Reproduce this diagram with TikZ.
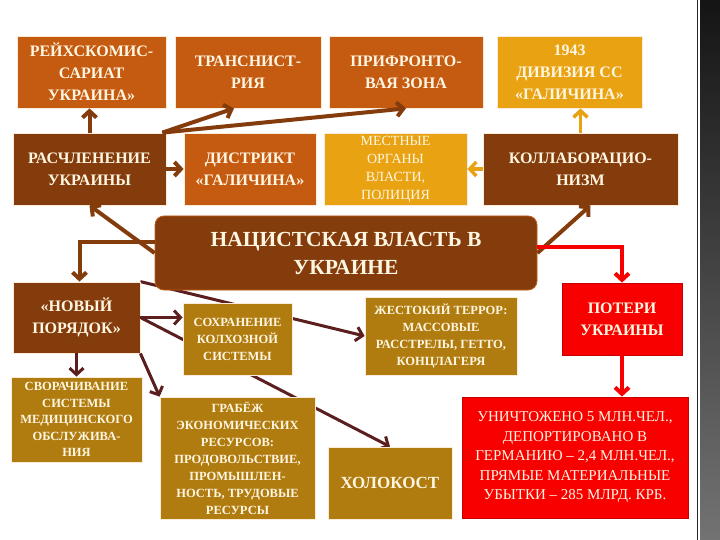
\documentclass[tikz,border=0pt]{standalone}
\usepackage{fontspec}
\setmainfont{Liberation Serif}
\usetikzlibrary{arrows.meta,calc}
\pgfdeclarelayer{background}
\pgfsetlayers{background,main}

\definecolor{rust}{HTML}{C55A11}
\definecolor{darkbrown}{HTML}{843C0C}
\definecolor{amber}{HTML}{E9A312}
\definecolor{olive}{HTML}{B07C10}
\definecolor{alarm}{HTML}{F80000}
\definecolor{maroon}{HTML}{5C1F1F}
\definecolor{cream}{HTML}{FFF6E2}
\definecolor{boxrim}{HTML}{FBEBD8}

\tikzstyle{box}=[rectangle,draw=boxrim,line width=0.8pt,text=cream,align=center,inner sep=1pt]
\tikzstyle{bigfont}=[font=\bfseries\fontsize{16}{22}\selectfont]
\tikzstyle{rustbox}=[box,bigfont,fill=rust]
\tikzstyle{brownbox}=[box,bigfont,fill=darkbrown]
\tikzstyle{amberbox}=[box,fill=amber]
\tikzstyle{olivebox}=[box,fill=olive,font=\bfseries\fontsize{12.5}{17}\selectfont]
\tikzstyle{redbox}=[box,fill=alarm,draw=alarm!80!black]
\tikzstyle{barb}=[-{Straight Barb[length=6.5pt,width=14pt]}]
\tikzstyle{brownedge}=[barb,draw=darkbrown,line width=4pt]
\tikzstyle{maroonedge}=[barb,draw=maroon,line width=3pt]
\tikzstyle{amberedge}=[barb,draw=amber,line width=3.5pt]
\tikzstyle{rededge}=[barb,draw=alarm,line width=4pt]

\begin{document}
\begin{tikzpicture}[x=1pt,y=-1pt]
\useasboundingbox (0,0) rectangle (720,540);
% top row
\node[rustbox,minimum width=149,minimum height=72] (reich) at (91.5,72) {РЕЙХСКОМИС-\\САРИАТ\\УКРАИНА»};
\node[rustbox,minimum width=146,minimum height=72] (trans) at (248,72) {ТРАНСНИСТ-\\РИЯ};
\node[rustbox,minimum width=154,minimum height=72] (front) at (406,72) {ПРИФРОНТО-\\ВАЯ ЗОНА};
\node[amberbox,bigfont,minimum width=145,minimum height=72] (div) at (569.5,72) {1943\\ДИВИЗИЯ СС\\«ГАЛИЧИНА»};
% middle row
\node[brownbox,minimum width=153,minimum height=72] (rasch) at (89.5,169) {РАСЧЛЕНЕНИЕ\\УКРАИНЫ};
\node[rustbox,minimum width=132,minimum height=72] (distr) at (250,169) {ДИСТРИКТ\\«ГАЛИЧИНА»};
\node[amberbox,minimum width=143,minimum height=72,font=\fontsize{14}{18}\selectfont] (local) at (395.5,169) {МЕСТНЫЕ\\ОРГАНЫ\\ВЛАСТИ,\\ПОЛИЦИЯ};
\node[brownbox,minimum width=195,minimum height=72] (koll) at (580.5,169) {КОЛЛАБОРАЦИО-\\НИЗМ};
% centre
\node[box,fill=darkbrown,draw=rust,rounded corners=9pt,minimum width=382,minimum height=74,font=\bfseries\fontsize{21.5}{28}\selectfont] (nazi) at (346,253) {НАЦИСТСКАЯ ВЛАСТЬ В\\УКРАИНЕ};
% left column
\node[brownbox,minimum width=127,minimum height=71] (order) at (76.5,317.5) {«НОВЫЙ\\ПОРЯДОК»};
\node[olivebox,minimum width=131,minimum height=85,font=\bfseries\fontsize{12.5}{16.5}\selectfont] (fold) at (76.5,419.5) {СВОРАЧИВАНИЕ\\СИСТЕМЫ\\МЕДИЦИНСКОГО\\ОБСЛУЖИВА-\\НИЯ};
% bottom middle
\node[olivebox,minimum width=109,minimum height=72] (kolkh) at (237.5,339) {СОХРАНЕНИЕ\\КОЛХОЗНОЙ\\СИСТЕМЫ};
\node[olivebox,minimum width=152,minimum height=78] (terror) at (441,336) {ЖЕСТОКИЙ ТЕРРОР:\\МАССОВЫЕ\\РАССТРЕЛЫ, ГЕТТО,\\КОНЦЛАГЕРЯ};
\node[olivebox,minimum width=155,minimum height=122] (rob) at (237.5,458) {ГРАБЁЖ\\ЭКОНОМИЧЕСКИХ\\РЕСУРСОВ:\\ПРОДОВОЛЬСТВИЕ,\\ПРОМЫШЛЕН-\\НОСТЬ, ТРУДОВЫЕ\\РЕСУРСЫ};
\node[olivebox,minimum width=124,minimum height=72,font=\bfseries\fontsize{17}{22}\selectfont] (holo) at (390,483) {ХОЛОКОСТ};
% right column
\node[redbox,bigfont,minimum width=120,minimum height=72] (loss) at (622,319) {ПОТЕРИ\\УКРАИНЫ};
\node[redbox,minimum width=226,minimum height=121,font=\fontsize{15}{19.5}\selectfont] (dest) at (575,457.5) {УНИЧТОЖЕНО 5 МЛН.ЧЕЛ.,\\ДЕПОРТИРОВАНО В\\ГЕРМАНИЮ – 2,4 МЛН.ЧЕЛ.,\\ПРЯМЫЕ МАТЕРИАЛЬНЫЕ\\УБЫТКИ – 285 МЛРД. КРБ.};

% arrows
\draw[brownedge] (rasch.north) -- (rasch.north |- reich.south);
\draw[brownedge] ([xshift=-4pt]rasch.north east) -- ([xshift=-14pt]trans.south);
\draw[brownedge] ([xshift=-4pt]rasch.north east) -- (front.south);
\draw[brownedge] (rasch.east) -- (distr.west);
\draw[amberedge] (koll.north) -- (koll.north |- div.south);
\draw[amberedge] (koll.west) -- (local.east);
\draw[brownedge] (nazi.west) -- (rasch.south);
\draw[brownedge] ([yshift=11pt]nazi.west) -| ([xshift=3pt]order.north);
\draw[brownedge] (nazi.east) -- ([xshift=10pt]koll.south);
\draw[rededge] ([yshift=6pt]nazi.east) -| (loss.north);
\draw[rededge] (loss.south) -- (loss.south |- dest.north);
\draw[maroonedge] (order.south) -- (fold.north);
\draw[maroonedge] (order.east) -- (order.east -| kolkh.west);
\draw[maroonedge] (order.south east) -- (rob.north west);
\begin{pgfonlayer}{background}
\fill[white] (0,0) rectangle (720,540);
\shade[top color=black!92,bottom color=black!55] (700,0) rectangle (720,540);
\draw[black!85,line width=1pt] (697,0) -- (697,540);
\draw[maroonedge] (order.north east) -- (terror.west);
\draw[maroonedge] (order.east) -- (holo.north);
\end{pgfonlayer}
\end{tikzpicture}
\end{document}
